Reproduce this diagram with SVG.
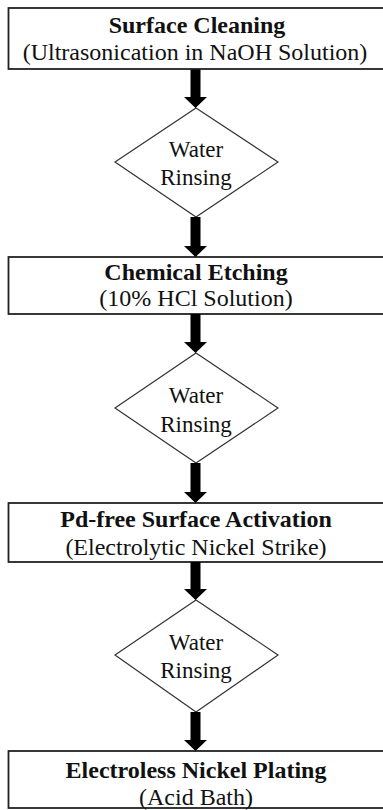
<svg xmlns="http://www.w3.org/2000/svg" width="383" height="810" viewBox="0 0 383 810">
<style>
.box{fill:#fff;stroke:#222;stroke-width:1.8}
.dia{fill:#fff;stroke:#333;stroke-width:1.2}
.t{font-family:"Liberation Serif","Times New Roman",serif;font-size:24px;fill:#111;text-anchor:middle}
.b{font-weight:bold}
.d{font-size:23px}
.arr{fill:#000}
</style>
<rect width="383" height="810" fill="#fff"/>
<g id="n1">
<rect class="box" x="8.5" y="8" width="390" height="61"/>
<text class="t b" x="197" y="33">Surface Cleaning</text>
<text class="t" x="195" y="60">(Ultrasonication in NaOH Solution)</text>
</g>
<g id="n2">
<polygon class="dia" points="196,108 278,162 196,217 115,162"/>
<text class="t d" x="196" y="157">Water</text>
<text class="t d" x="196" y="185">Rinsing</text>
</g>
<g id="n3">
<rect class="box" x="8.5" y="257" width="390" height="57"/>
<text class="t b" x="196" y="280">Chemical Etching</text>
<text class="t" x="196" y="306">(10% HCl Solution)</text>
</g>
<g id="n4">
<polygon class="dia" points="196,353 278,408 196,463 115,408"/>
<text class="t d" x="196" y="403">Water</text>
<text class="t d" x="196" y="432">Rinsing</text>
</g>
<g id="n5">
<rect class="box" x="8.5" y="503" width="390" height="59"/>
<text class="t b" x="196" y="527">Pd-free Surface Activation</text>
<text class="t" x="196" y="555">(Electrolytic Nickel Strike)</text>
</g>
<g id="n6">
<polygon class="dia" points="196,600 278,655 196,712 115,655"/>
<text class="t d" x="196" y="650">Water</text>
<text class="t d" x="196" y="678">Rinsing</text>
</g>
<g id="n7">
<rect class="box" x="8.5" y="751" width="390" height="57"/>
<text class="t b" x="196" y="778">Electroless Nickel Plating</text>
<text class="t" x="196" y="805">(Acid Bath)</text>
</g>
<g id="connectors">
<path class="arr" d="M190.5,69.5 H200.5 V97 H207 L195.5,108 L184,97 H190.5 Z"/>
<path class="arr" d="M190.5,217 H200.5 V246 H207 L195.5,257 L184,246 H190.5 Z"/>
<path class="arr" d="M190.5,314 H200.5 V342 H207 L195.5,353 L184,342 H190.5 Z"/>
<path class="arr" d="M190.5,463 H200.5 V492 H207 L195.5,503 L184,492 H190.5 Z"/>
<path class="arr" d="M190.5,562 H200.5 V589 H207 L195.5,600 L184,589 H190.5 Z"/>
<path class="arr" d="M190.5,712 H200.5 V740 H207 L195.5,751 L184,740 H190.5 Z"/>
</g>
</svg>
